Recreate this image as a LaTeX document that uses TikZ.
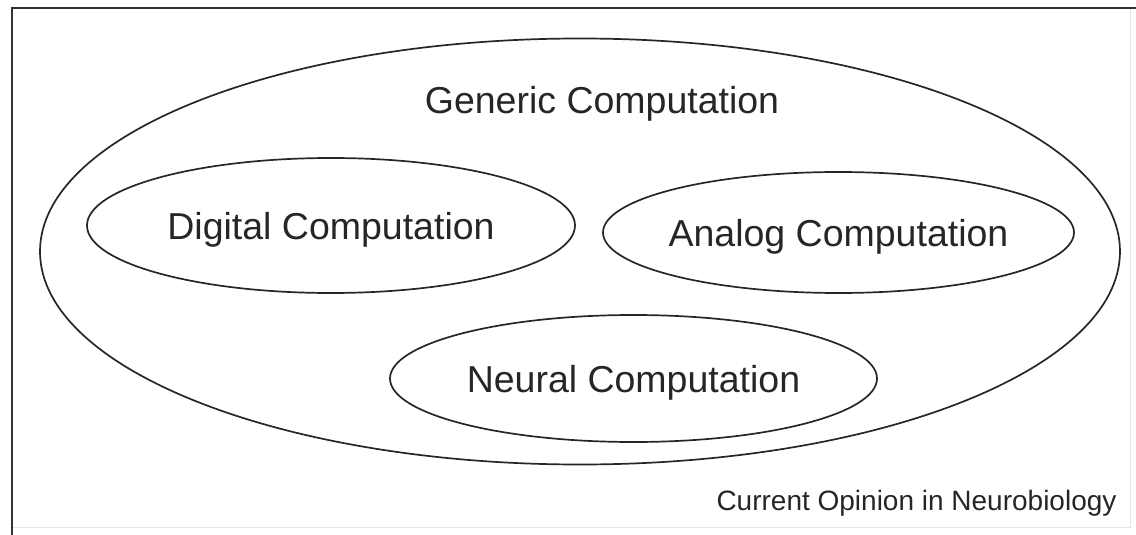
\documentclass[tikz,border=0pt]{standalone}
\usepackage{fontspec}
\setmainfont{Liberation Sans}
\usetikzlibrary{shapes.geometric}
\begin{document}
\begin{tikzpicture}[x=1pt,y=-1pt,
  oval/.style={draw=black!85, line width=1.7pt, ellipse, inner sep=0pt},
  bigtext/.style={font=\fontsize{37.5}{44}\selectfont, text=black!85, inner sep=0pt, text depth=0pt},
  smalltext/.style={font=\fontsize{28}{33}\selectfont, text=black!85, inner sep=0pt, text depth=0pt},
  frame/.style={line width=2pt, draw=black!80},
  faint/.style={line width=1pt, draw=black!10}]
\useasboundingbox (0,0) rectangle (1136,535);
% frame
\coordinate (tl) at (11.5,8.5);
\coordinate (tr) at (1136,8.5);
\coordinate (bl) at (11.5,535);
\coordinate (rt) at (1130,8.5);
\coordinate (rb) at (1130,527);
\coordinate (bb) at (11.5,527);
\draw[faint] (rt) -- (rb) -- (bb);
\draw[frame] (bl) -- (tl) -- (tr);
% ellipses
\node[oval, minimum width=1080pt, minimum height=426pt] (generic) at (580,251.5) {};
\node[bigtext] (generictext) at (602,100) {Generic Computation};
\node[oval, minimum width=488pt, minimum height=135pt,
  label={[bigtext]center:Digital Computation}] (digital) at (331,225.5) {};
\node[oval, minimum width=471pt, minimum height=121pt,
  label={[bigtext]center:Analog Computation}] (analog) at (838.5,232.5) {};
\node[oval, minimum width=487pt, minimum height=127pt,
  label={[bigtext]center:Neural Computation}] (neural) at (633.5,378.5) {};
\node[smalltext] (credit) at (916.5,500) {Current Opinion in Neurobiology};
\end{tikzpicture}
\end{document}
